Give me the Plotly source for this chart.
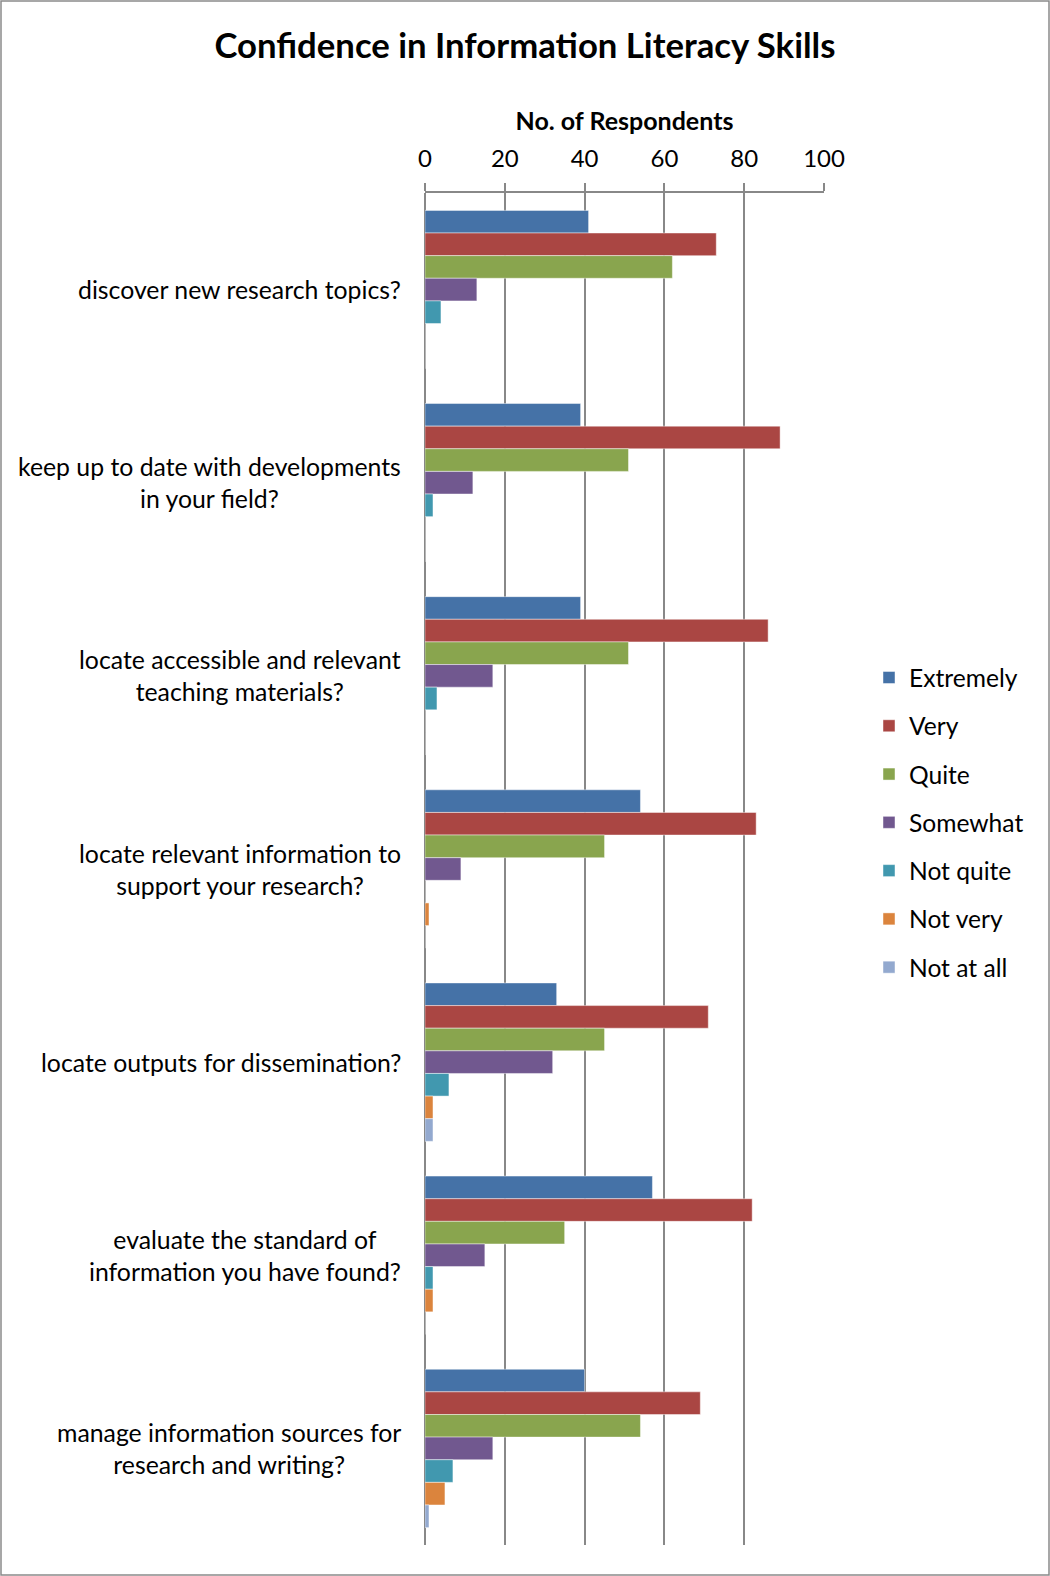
import plotly.graph_objects as go

# Survey questions (top to bottom)
questions = [
    "discover new research topics?",
    "keep up to date with developments<br>in your field?",
    "locate accessible and relevant<br>teaching materials?",
    "locate relevant information to<br>support your research?",
    "locate outputs for dissemination?",
    "evaluate the standard of<br>information you have found?",
    "manage information sources for<br>research and writing?",
]

# Number of respondents per confidence level, one value per question
extremely = [41, 39, 39, 54, 33, 57, 40]
very = [73, 89, 86, 83, 71, 82, 69]
quite = [62, 51, 51, 45, 45, 35, 54]
somewhat = [13, 12, 17, 9, 32, 15, 17]
not_quite = [4, 2, 3, 0, 6, 2, 7]
not_very = [0, 0, 0, 1, 2, 2, 5]
not_at_all = [0, 0, 0, 0, 2, 0, 1]

levels = ["Extremely", "Very", "Quite", "Somewhat", "Not quite", "Not very", "Not at all"]
series = [extremely, very, quite, somewhat, not_quite, not_very, not_at_all]
colors = ["#4572A7", "#AA4643", "#89A54E", "#71588F", "#4198AF", "#DB843D", "#93A9CF"]

FONT = "Lato"
W, H = 1050, 1576
ML, MR, MT, MB = 425, 226, 193, 31

fig = go.Figure()
for name, vals, col in zip(levels, series, colors):
    fig.add_trace(go.Bar(
        y=questions, x=vals, name=name, orientation="h",
        legendgroup=name,
        marker=dict(color=col, line=dict(color="rgba(255,255,255,0.45)", width=1)),
    ))

# Question labels, right-aligned against the plot, lines centred within each label
for q in questions:
    fig.add_annotation(
        x=0, xref="paper", xshift=-22, y=q, yref="y",
        text=q, showarrow=False, xanchor="right", yanchor="middle",
        align="center", font=dict(family=FONT, size=24.8, color="black"),
    )

# Outer frame around the whole figure
pw = W - ML - MR
ph = H - MT - MB
fig.add_shape(
    type="rect", xref="paper", yref="paper",
    x0=(1 - ML) / pw, x1=(W - ML - 1) / pw,
    y0=-(MB - 1) / ph, y1=(H - MB - 1) / ph,
    line=dict(color="#8a8a8a", width=1.5), layer="above",
)

fig.update_layout(
    width=W, height=H,
    margin=dict(l=ML, r=MR, t=MT, b=MB),
    paper_bgcolor="white", plot_bgcolor="white",
    barmode="group", bargap=0.18, bargroupgap=0,
    title=dict(
        text="<b>Confidence in Information Literacy Skills</b>",
        x=525 / W, xanchor="center", y=1 - 46 / H, yanchor="middle",
        font=dict(family=FONT, size=34.7, color="black"),
    ),
    font=dict(family=FONT, color="black"),
    legend=dict(
        x=(869 - ML) / pw, xanchor="left", y=1 - (655 - MT) / ph, yanchor="top",
        traceorder="grouped", tracegroupgap=13.3,
        font=dict(family=FONT, size=24.6, color="black"),
        itemwidth=30,
    ),
    showlegend=True,
)

fig.update_xaxes(
    side="top", range=[0, 100], dtick=20,
    showgrid=True, gridcolor="#888888", gridwidth=1.6,
    showline=True, linecolor="#888888", linewidth=1.6,
    ticks="outside", ticklen=8, tickcolor="#888888", tickwidth=1.6,
    ticklabelstandoff=7,
    tickfont=dict(family=FONT, size=24, color="black"),
    zeroline=True, zerolinecolor="#888888", zerolinewidth=1.6,
    title=dict(text="<b>No. of Respondents</b>", standoff=5,
               font=dict(family=FONT, size=25, color="black")),
)
fig.update_yaxes(
    autorange="reversed", showticklabels=False, showgrid=False,
    showline=False, ticks="",
)

fig.write_html("out.html")
